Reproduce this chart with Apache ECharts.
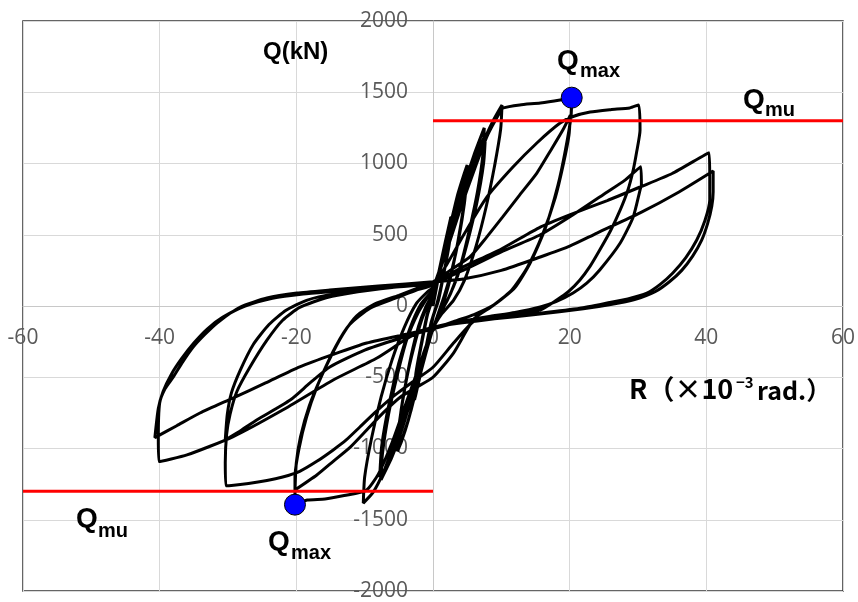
<!DOCTYPE html>
<html>
<head>
<meta charset="utf-8">
<script src="https://cdn.jsdelivr.net/npm/echarts@6/dist/echarts.min.js"></script>
<style>
  html, body { margin: 0; padding: 0; background: #fff; }
  #chart { width: 858px; height: 602px; }
</style>
</head>
<body>
<div id="chart"></div>
<script>
// drift angle R (x10^-3 rad) vs shear Q (kN)
const cyc25a = [[0,0],[0.8,200],[1.6,400],[2.5,600],[2.3,430],[1.6,230],[0.8,40],[0,-80],[-0.8,-260],[-1.7,-450],[-2.6,-640],[-2.4,-460],[-1.6,-250],[-0.8,-60],[0,60]];
const cyc25b = [[0,60],[0.9,250],[1.8,450],[2.6,620],[2.4,440],[1.5,210],[0.6,20],[-0.3,-120],[-1.2,-330],[-2,-500],[-2.7,-660],[-2.5,-470],[-1.7,-260],[-0.9,-70],[0,70]];
const cyc5a = [[0,70],[1.2,300],[2.4,540],[3.6,780],[4.5,920],[5,990],[4.8,820],[4.1,580],[3.2,340],[2.2,130],[1.2,-20],[0,-160],[-1.2,-360],[-2.4,-580],[-3.6,-800],[-4.6,-950],[-5.2,-1020],[-5,-850],[-4.2,-600],[-3.2,-350],[-2.1,-140],[-1,0],[0,90]];
const cyc5b = [[0,90],[1.4,330],[2.7,560],[3.9,790],[4.8,950],[5.1,960],[4.6,720],[3.8,480],[2.8,260],[1.7,80],[0.5,-90],[-0.8,-280],[-2,-500],[-3.2,-730],[-4.3,-900],[-5,-980],[-4.8,-780],[-3.9,-520],[-2.8,-290],[-1.6,-90],[-0.5,40],[0,100]];
const cyc75a = [[0,100],[1.5,330],[3,580],[4.5,840],[6,1060],[7.5,1250],[7.3,1060],[6.5,800],[5.3,530],[4,280],[2.6,90],[1.2,-40],[0,-150],[-1.5,-380],[-3,-620],[-4.5,-860],[-6,-1060],[-7.6,-1220],[-7.4,-1040],[-6.5,-760],[-5.2,-480],[-3.8,-230],[-2.2,-50],[-0.8,60],[0,110]];
const cyc75b = [[0,110],[1.7,350],[3.4,610],[5,860],[6.5,1070],[7.7,1210],[7.4,1000],[6.4,720],[5,440],[3.6,210],[2.1,40],[0.7,-80],[-0.6,-230],[-2,-470],[-3.6,-720],[-5.2,-950],[-6.6,-1120],[-7.8,-1200],[-7.5,-980],[-6.4,-680],[-5,-400],[-3.4,-160],[-1.8,10],[-0.4,90],[0,110]];
const cyc10 = [[0,110],[1.8,360],[3.6,620],[5.4,880],[7.2,1130],[8.8,1300],[10.1,1410],[9.9,1240],[9,980],[7.8,700],[6.3,420],[4.6,180],[3,40],[1.2,-60],[0,-160],[-1.8,-420],[-3.6,-680],[-5.4,-930],[-7.2,-1160],[-8.8,-1310],[-10.2,-1383],[-10,-1200],[-9,-930],[-7.6,-640],[-6,-380],[-4.2,-150],[-2.4,20],[-0.8,100],[0,130]];
const cyc20a = [[0,130],[2,400],[4,680],[6,950],[8,1200],[9.8,1360],[10.3,1390],[12.7,1411],[15.7,1425],[18.6,1446],[20.3,1462],[20.2,1330],[19.4,1100],[18.3,850],[16.4,540],[14.2,300],[12,130],[9,10],[6,-60],[3,-110],[0,-170],[-2,-420],[-4,-690],[-6,-960],[-8,-1180],[-9.8,-1295],[-13,-1330],[-15.8,-1355],[-18.4,-1362],[-20.2,-1394],[-20.2,-1200],[-19.6,-1000],[-18.5,-780],[-17,-570],[-15.2,-380],[-13.2,-200],[-11.2,-70],[-8.5,15],[-5,75],[-2,130],[0,170]];
const cyc20b = [[0,170],[2.5,250],[5.4,344],[7.8,480],[10.2,625],[12.7,780],[15.2,933],[17.2,1090],[19,1235],[20.1,1340],[19.9,1200],[19.1,1000],[17.9,760],[16.1,510],[13.8,270],[11.5,110],[8.7,0],[6,-90],[3,-330],[0,-500],[-2.4,-570],[-4.8,-640],[-7.3,-750],[-9.7,-870],[-12.1,-990],[-14.6,-1090],[-17,-1186],[-20.2,-1291],[-20,-1100],[-19.4,-920],[-18.1,-700],[-16.2,-480],[-14.2,-280],[-12.2,-130],[-9.2,-15],[-5.5,55],[-2.5,110],[0,150]];
const cyc30a = [[0,150],[2,290],[4.5,500],[7.9,765],[11.7,975],[15.2,1144],[18.6,1284],[20.5,1330],[23,1361],[26,1378],[28.8,1390],[30.1,1411],[30.3,1235],[29.8,1080],[29.3,954],[28.5,810],[27.4,674],[26,530],[24.4,393],[23,280],[21.5,183],[19.8,100],[18.1,42],[15.7,-28],[12,-60],[8,-85],[5.9,-110],[3,-260],[0,-430],[-2.9,-530],[-5.9,-638],[-8.3,-740],[-10.7,-849],[-12.7,-940],[-14.6,-1010],[-17,-1090],[-19.5,-1160],[-22,-1200],[-24.3,-1225],[-27,-1245],[-30.3,-1261],[-30.4,-1100],[-30.2,-900],[-29.7,-760],[-28.7,-600],[-26.8,-430],[-24.3,-240],[-22,-100],[-19.5,-10],[-15.5,60],[-11,100],[-6,130],[0,160]];
const cyc30b = [[0,160],[4.4,250],[10,380],[15.7,500],[20.5,640],[25.5,800],[28,880],[30.4,978],[30.5,850],[30.3,814],[29.3,625],[27.4,442],[24.4,253],[22.5,160],[20.5,91],[18,30],[15.7,-7],[12,-45],[8,-75],[4,-110],[0,-160],[-5,-230],[-10,-310],[-15.1,-428],[-18,-540],[-20.9,-660],[-25.8,-800],[-28,-870],[-30.4,-940],[-30.1,-760],[-29.5,-610],[-28.2,-450],[-26.3,-270],[-24,-130],[-21.5,-30],[-18.5,40],[-14.5,85],[-9,115],[-4,140],[0,165]];
const cyc40a = [[0,165],[4.4,274],[10,400],[15.7,554],[20,640],[25.5,740],[30.3,835],[35,930],[40.4,1076],[40.5,900],[40.5,744],[39.8,600],[38.6,463],[37,340],[35.1,232],[33.2,150],[31.3,91],[28.5,50],[25.5,21],[21.5,-15],[15.7,-50],[9.3,-84],[4,-110],[0,-150],[-3.4,-217],[-8.2,-365],[-14.6,-519],[-22,-730],[-29.3,-918],[-36,-1045],[-40.1,-1092],[-40.2,-930],[-40,-681],[-39.2,-580],[-38,-498],[-36.6,-390],[-35.1,-288],[-33.4,-200],[-31.6,-119],[-28.2,-7],[-24.3,56],[-19.9,91],[-15.1,112],[-8,140],[0,170]];
const cyc40b = [[0,170],[4.4,190],[10,250],[15.7,344],[20,420],[24,512],[30.3,653],[36,800],[41,947],[41,800],[40.8,700],[40.2,580],[39.3,460],[38,350],[36.4,250],[34.6,170],[32.5,100],[29.5,45],[26,10],[22,-20],[15,-60],[9,-90],[4,-120],[0,-150],[-2.4,-182],[-9.7,-260],[-14.6,-340],[-19.5,-428],[-24.5,-540],[-29.3,-646],[-34.1,-751],[-37.5,-840],[-40.7,-924],[-40.2,-720],[-39.5,-600],[-38.3,-480],[-36.8,-370],[-35,-260],[-33,-160],[-30.8,-80],[-27.5,0],[-23.5,55],[-19,85],[-14,105],[-7,135],[0,160]];

const qmu = 1300;
const qmaxPoints = [[20.3, 1462], [-20.2, -1394]];
const xTicks = { min: -60, max: 60, step: 20 };
const yTicks = { min: -2000, max: 2000, step: 500 };

const loops = [].concat(cyc25a, cyc25b, cyc5a, cyc5b, cyc75a, cyc75b, cyc10,
  cyc20a, cyc20b, cyc30a, cyc30b, cyc40a, cyc40b);

// plot box in pixels; the axes are shifted onto the zero lines with offset
const box = { left: 23, right: 15, top: 21, bottom: 11 };
const plotW = 858 - box.left - box.right;
const plotH = 602 - box.top - box.bottom;
const xZeroShift = -plotW * (0 - xTicks.min) / (xTicks.max - xTicks.min);
const yZeroShift = -plotH * (0 - yTicks.min) / (yTicks.max - yTicks.min);

const chart = echarts.init(document.getElementById('chart'));
const tickFont = { color: '#595959', fontSize: 21, fontFamily: 'Open Sans', formatter: v => String(v) };
const lblFont = '"Liberation Sans", Arial, sans-serif';
const jpFont = '"Noto Sans CJK JP"';

function txt(text, x, y, size, family) {
  return {
    type: 'text', x: x, y: y, z: 100,
    style: { text: text, fill: '#000', font: 'bold ' + size + 'px ' + (family || lblFont), verticalAlign: 'middle' }
  };
}

chart.setOption({
  animation: false,
  grid: {
    left: box.left, right: box.right, top: box.top, bottom: box.bottom, show: true,
    borderColor: '#333', borderWidth: 1.5
  },
  xAxis: {
    type: 'value', min: xTicks.min, max: xTicks.max, interval: xTicks.step,
    position: 'bottom', offset: yZeroShift,
    axisLine: { show: true, onZero: false, lineStyle: { color: '#c8c8c8', width: 1 } },
    axisTick: { show: false },
    axisLabel: Object.assign({ margin: 22, showMinLabel: true, showMaxLabel: true }, tickFont),
    splitLine: { lineStyle: { color: '#d9d9d9', width: 1 } }
  },
  yAxis: {
    type: 'value', min: yTicks.min, max: yTicks.max, interval: yTicks.step,
    position: 'left', offset: xZeroShift,
    axisLine: { show: true, onZero: false, lineStyle: { color: '#c8c8c8', width: 1 } },
    axisTick: { show: false },
    axisLabel: Object.assign({ margin: 25, showMinLabel: true, showMaxLabel: true }, tickFont),
    splitLine: { lineStyle: { color: '#d9d9d9', width: 1 } }
  },
  series: [
    {
      type: 'line', data: loops, showSymbol: false, smooth: 0.2,
      lineStyle: { color: '#000', width: 3 }, z: 2
    },
    {
      type: 'line', data: [[0, qmu], [xTicks.max, qmu]], showSymbol: false,
      lineStyle: { color: '#ff0000', width: 3 }, z: 3
    },
    {
      type: 'line', data: [[xTicks.min, -qmu], [0, -qmu]], showSymbol: false,
      lineStyle: { color: '#ff0000', width: 3 }, z: 3
    },
    {
      type: 'scatter', data: qmaxPoints, symbolSize: 21,
      itemStyle: { color: '#0000ff', borderColor: '#000', borderWidth: 1, opacity: 1 }, z: 4
    }
  ],
  graphic: [
    txt('Q(kN)', 263, 52, 24),
    txt('Q', 557, 61, 28), txt('max', 580, 71, 20),
    txt('Q', 743, 100, 28), txt('mu', 765, 110, 20),
    txt('Q', 76, 519, 28), txt('mu', 98, 531, 20),
    txt('Q', 268, 542, 28), txt('max', 291, 553, 20),
    txt('R（×10', 629, 389, 27, jpFont),
    txt('−3', 736, 382, 15, jpFont),
    txt('rad.）', 757, 390, 25, jpFont)
  ]
});
</script>
</body>
</html>
